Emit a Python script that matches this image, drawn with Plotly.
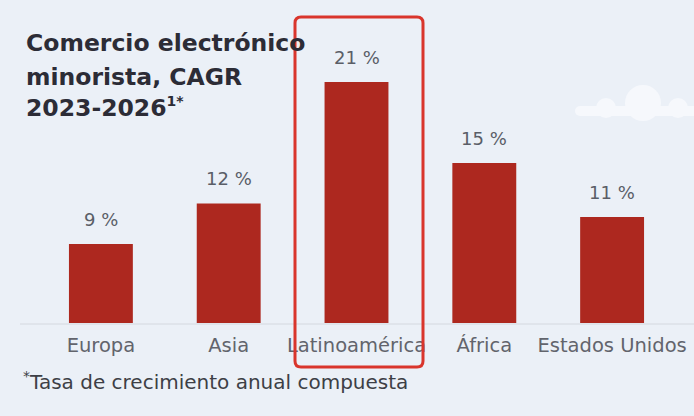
import plotly.graph_objects as go

# Retail e-commerce growth by region
regions = ["Europa", "Asia", "Latinoamérica", "África", "Estados Unidos"]
cagr = [9, 12, 21, 15, 11]
value_labels = [f"{v} %" for v in cagr]

title_lines = [
    "Comercio electrónico",
    "minorista, CAGR",
    "2023-2026<sup><span style='font-size:14px'>1*</span></sup>",
]
footnote = "<sup>*</sup>Tasa de crecimiento anual compuesta"
highlight = "Latinoamérica"

W, H = 694, 416
L, R, T, B = 37, 676, 20, 323  # plot-area edges in pixels

BG = "#ebf0f7"
BAR = "#ad281f"
RED = "#d9352c"
FONT = "DejaVu Sans"


def px(x):
    return (x - L) / (R - L)


def py(y):
    return (B - y) / (B - T)


fig = go.Figure()
fig.add_trace(go.Bar(
    x=regions, y=cagr, marker_color=BAR, marker_line_width=0,
    hoverinfo="skip", showlegend=False,
))

annotations = []
# value labels above each bar
for reg, v, lab in zip(regions, cagr, value_labels):
    annotations.append(dict(
        x=reg, y=v, xref="x", yref="y", text=lab, showarrow=False,
        yanchor="middle", yshift=25,
        font=dict(family=FONT, size=18, color="#5a5e67"),
    ))

# title block
for line, cy in zip(title_lines, [43, 77, 107]):
    annotations.append(dict(
        x=px(24), y=py(cy), xref="paper", yref="paper", text=f"<b>{line}</b>",
        showarrow=False, xanchor="left", yanchor="middle",
        font=dict(family=FONT, size=23.5, color="#2c2c36"),
    ))

annotations.append(dict(
    x=px(21), y=py(381), xref="paper", yref="paper", text=footnote,
    showarrow=False, xanchor="left", yanchor="middle",
    font=dict(family=FONT, size=20, color="#3d3f46"),
))

shapes = []

# soft cloud in the top-right corner (single opaque tint so overlaps merge)
CLOUD = "#f6f8fc"


def circle(cx, cy, r):
    return dict(type="circle", xref="paper", yref="paper",
                x0=px(cx - r), x1=px(cx + r), y0=py(cy + r), y1=py(cy - r),
                fillcolor=CLOUD, line_width=0, layer="below")


shapes += [
    circle(643, 103, 18),
    circle(606, 108, 10),
    circle(678, 108, 10),
    circle(580, 111, 5),
    dict(type="rect", xref="paper", yref="paper",
         x0=px(580), x1=px(700), y0=py(116), y1=py(106),
         fillcolor=CLOUD, line_width=0, layer="below"),
]

# baseline
shapes.append(dict(type="line", xref="paper", yref="paper",
                   x0=px(20), x1=px(694), y0=py(324), y1=py(324),
                   line=dict(color="#d4d8df", width=1), layer="below"))

# rounded highlight frame around the selected region
x0, x1, y0, y1, rr = 295, 423, 17, 367, 6
path = (
    f"M {px(x0 + rr)},{py(y0)} L {px(x1 - rr)},{py(y0)} "
    f"Q {px(x1)},{py(y0)} {px(x1)},{py(y0 + rr)} "
    f"L {px(x1)},{py(y1 - rr)} Q {px(x1)},{py(y1)} {px(x1 - rr)},{py(y1)} "
    f"L {px(x0 + rr)},{py(y1)} Q {px(x0)},{py(y1)} {px(x0)},{py(y1 - rr)} "
    f"L {px(x0)},{py(y0 + rr)} Q {px(x0)},{py(y0)} {px(x0 + rr)},{py(y0)} Z"
)
shapes.append(dict(type="path", xref="paper", yref="paper", path=path,
                   line=dict(color=RED, width=3), layer="above"))

fig.update_layout(
    width=W, height=H,
    margin=dict(l=L, r=W - R, t=T, b=H - B, autoexpand=False),
    paper_bgcolor=BG, plot_bgcolor=BG,
    bargap=0.5,
    annotations=annotations, shapes=shapes,
    xaxis=dict(
        showgrid=False, zeroline=False, showline=False,
        ticks="outside", ticklen=5, tickcolor="rgba(0,0,0,0)",
        tickfont=dict(family=FONT, size=19.5, color="#62646c"),
        automargin=False,
    ),
    yaxis=dict(range=[3.15, 25.6], visible=False, fixedrange=True),
    font=dict(family=FONT),
)

fig.write_html("out.html")
